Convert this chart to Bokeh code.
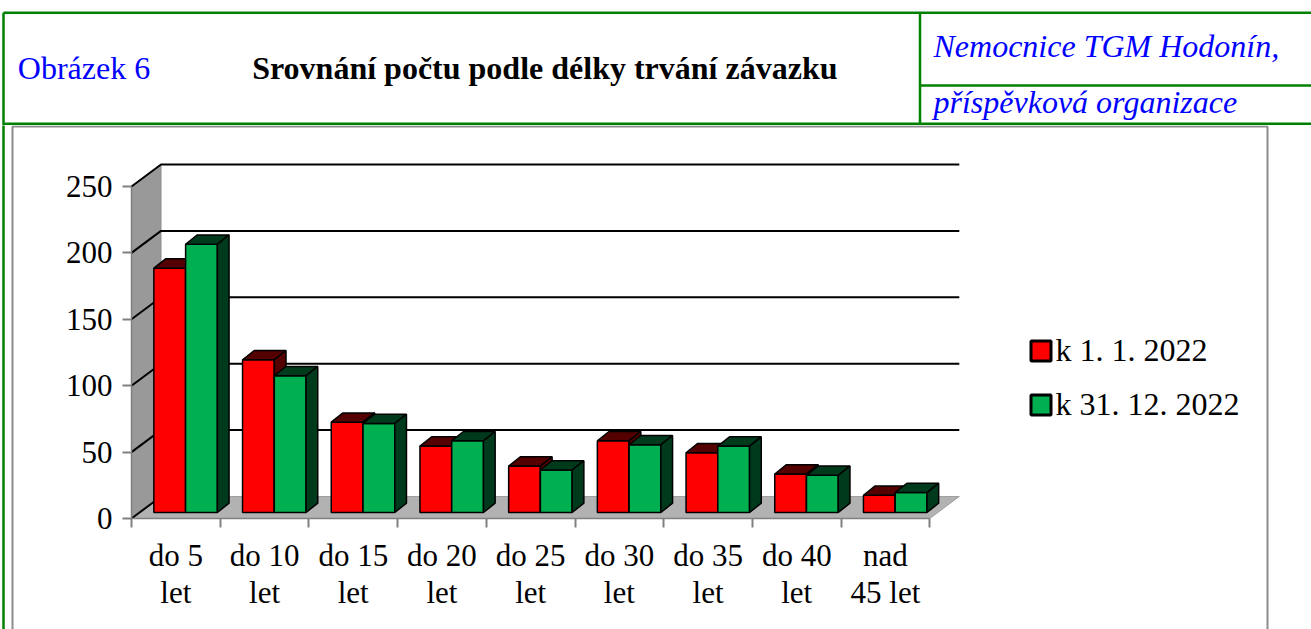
from bokeh.plotting import figure
from bokeh.models import Range1d, LinearAxis, FixedTicker, Legend, LegendItem, ColumnDataSource
from bokeh.layouts import column
from bokeh.embed import file_html
from bokeh.resources import INLINE
from bokeh.core.properties import value

# ---------------- data ----------------
categories = ["do 5\nlet", "do 10\nlet", "do 15\nlet", "do 20\nlet", "do 25\nlet",
              "do 30\nlet", "do 35\nlet", "do 40\nlet", "nad\n45 let"]
series_names = ["k 1. 1. 2022", "k 31. 12. 2022"]
values_start = [184, 115, 68, 50, 35, 54, 45, 29, 13]
values_end = [202, 103, 67, 54, 32, 51, 50, 28, 15]
y_ticks = [0, 50, 100, 150, 200, 250]

header_left = "Obrázek 6"
header_title = "Srovnání počtu podle délky trvání závazku"
header_org = ["Nemocnice TGM Hodonín,", "příspěvková organizace"]

# ---------------- style ----------------
FONT = "Liberation Serif"
GREEN_LINE = "#008000"
BLUE = "#0000FF"
RED_FRONT, RED_DARK = "#FF0000", "#550000"
GRN_FRONT, GRN_DARK = "#00B050", "#003A1C"

W = 1311
HH = 125
CH = 504

# ---------------- header ----------------
h = figure(width=W, height=HH, x_range=Range1d(0, W), y_range=Range1d(HH, 0),
           x_axis_type=None, y_axis_type=None, toolbar_location=None,
           output_backend="svg", min_border=0, outline_line_color=None)
h.segment(x0=[3, 3, 919.5, 919.5, 3], y0=[12.3, 12.3, 12.3, 85, 123.3],
          x1=[W, 3, 919.5, W, W], y1=[12.3, HH, 123.3, 85, 123.3],
          line_color=GREEN_LINE, line_width=2.5)
h.text(x=[17.3], y=[67], text=[header_left], text_font=value(FONT),
       text_font_size="32px", text_color=BLUE, text_baseline="alphabetic")
h.text(x=[251.7], y=[67], text=[header_title], text_font=value(FONT),
       text_font_size="32px", text_font_style="bold", text_color="black",
       text_baseline="alphabetic")
h.text(x=[933, 933], y=[45.5, 101], text=header_org, text_font=value(FONT),
       text_font_size="32px", text_font_style="italic", text_color=BLUE,
       text_baseline="alphabetic")

# ---------------- chart ----------------
PXX, PXY = 88.7, 1.328       # pixels per category / per value unit
AX, AY = 131, 393            # front-axis origin in figure pixels
n = len(categories)
xr = Range1d(-AX / PXX, (W - AX) / PXX)
yr = Range1d(-(CH - AY) / PXY, AY / PXY)

p = figure(width=W, height=CH, x_range=xr, y_range=yr, x_axis_type=None, y_axis_type=None,
           toolbar_location=None, output_backend="svg", min_border=0,
           outline_line_color=None)

def fx(px):
    return xr.start + px / PXX

def fy(py):
    return yr.end - py / PXY

DX, DY = 29.5 / PXX, 22 / PXY        # wall depth
BDX, BDY = 11.7 / PXX, 9.3 / PXY     # bar depth
BY0 = 6 / PXY                        # bar base offset
OFF = [0.252, 0.61, 0.968]
ymax = y_ticks[-1]

# frame lines
p.line(x=[fx(12), fx(12), fx(1267), fx(1267)], y=[fy(CH + 5), fy(1), fy(1), fy(CH + 5)],
       line_color="#8c8c8c", line_width=2)
p.line(x=[fx(3), fx(3)], y=[fy(-5), fy(CH + 5)], line_color=GREEN_LINE, line_width=2.5)

# floor and side wall
p.patch([0, n, n + DX, DX], [0, 0, DY, DY], fill_color="#B2B2B2", line_color="#A0A0A0")
p.patch([0, 0, DX, DX], [0, ymax, ymax + DY, DY], fill_color="#999999", line_color="#8C8C8C")

# gridlines
gx = [[0, DX, n + DX] for v in y_ticks[1:]] + [[0, DX]]
gy = [[v, v + DY, v + DY] for v in y_ticks[1:]] + [[0, DY]]
p.multi_line(gx, gy, line_color="black", line_width=2)

# bars
def bar_faces(vals, left_off, right_off):
    fx_, fy_, tx, ty, sx, sy = [], [], [], [], [], []
    for i, v in enumerate(vals):
        xl, xrr = i + left_off, i + right_off
        b, t = BY0, BY0 + v
        fx_.append([xl, xrr, xrr, xl]);               fy_.append([b, b, t, t])
        tx.append([xl, xrr, xrr + BDX, xl + BDX]);    ty.append([t, t, t + BDY, t + BDY])
        sx.append([xrr, xrr + BDX, xrr + BDX, xrr]);  sy.append([b, b + BDY, t + BDY, t])
    return (ColumnDataSource(dict(xs=fx_, ys=fy_)),
            ColumnDataSource(dict(xs=tx, ys=ty)),
            ColumnDataSource(dict(xs=sx, ys=sy)))

legend_proxies = []
for vals, lo, ro, fr, dk in [(values_start, OFF[0], OFF[1], RED_FRONT, RED_DARK),
                             (values_end, OFF[1], OFF[2], GRN_FRONT, GRN_DARK)]:
    front, top, side = bar_faces(vals, lo, ro)
    p.patches("xs", "ys", source=front, fill_color=fr, line_color="black", line_width=1.5)
    p.patches("xs", "ys", source=top, fill_color=dk, line_color="black", line_width=1.5)
    p.patches("xs", "ys", source=side, fill_color=dk, line_color="black", line_width=1.5)
    proxy = p.patches("xs", "ys", source=front, fill_color=fr, line_color="black",
                      line_width=3, visible=False)
    legend_proxies.append(proxy)

# axes
yax = LinearAxis(fixed_location=0, bounds=(0, ymax), ticker=FixedTicker(ticks=y_ticks))
yax.axis_line_color = "#808080"
yax.axis_line_width = 1.5
yax.major_tick_out = 9
yax.major_tick_in = 0
yax.major_tick_line_color = "#808080"
yax.major_tick_line_width = 2
yax.minor_tick_line_color = None
yax.major_label_text_font = FONT
yax.major_label_text_font_size = "31px"
yax.major_label_text_color = "black"
yax.major_label_standoff = 10
p.add_layout(yax, "left")

xt = LinearAxis(fixed_location=0, bounds=(0, n), ticker=FixedTicker(ticks=list(range(n + 1))))
xt.major_label_overrides = {i: "" for i in range(n + 1)}
xt.axis_line_color = "#808080"
xt.axis_line_width = 1.5
xt.major_tick_out = 9
xt.major_tick_in = 0
xt.major_tick_line_color = "#808080"
xt.major_tick_line_width = 2
xt.minor_tick_line_color = None
p.add_layout(xt, "below")

xl = LinearAxis(fixed_location=0, ticker=FixedTicker(ticks=[i + 0.5 for i in range(n)]))
xl.major_label_overrides = {i + 0.5: categories[i] for i in range(n)}
xl.axis_line_color = None
xl.major_tick_line_color = None
xl.minor_tick_line_color = None
xl.major_tick_out = 0
xl.major_tick_in = 0
xl.major_label_standoff = 19
xl.major_label_text_font = FONT
xl.major_label_text_font_size = "31px"
xl.major_label_text_color = "black"
xl.major_label_text_line_height = 1.06
p.add_layout(xl, "below")

# legend
legend = Legend(items=[LegendItem(label=series_names[0], renderers=[legend_proxies[0]], index=0),
                       LegendItem(label=series_names[1], renderers=[legend_proxies[1]], index=0)],
                location=(1027.5, 206))
legend.glyph_width = 25
legend.glyph_height = 25
legend.label_standoff = 3
legend.spacing = 17
legend.padding = 0
legend.margin = 0
legend.border_line_color = None
legend.background_fill_alpha = 0
legend.inactive_fill_alpha = 0
legend.label_text_font = FONT
legend.label_text_font_size = "32px"
legend.label_text_color = "black"
p.add_layout(legend)

layout = column(h, p, spacing=0)
open("out.html", "w").write(file_html(layout, INLINE))
